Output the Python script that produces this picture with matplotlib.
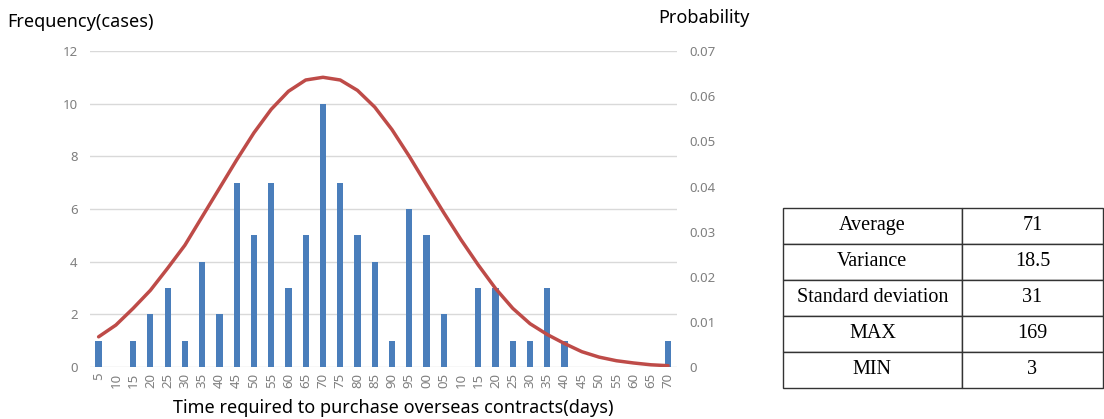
import matplotlib.pyplot as plt
import numpy as np

# dados
dias = list(range(5, 175, 5))
rotulos = ['5', '10', '15', '20', '25', '30', '35', '40', '45', '50', '55', '60',
           '65', '70', '75', '80', '85', '90', '95', '00', '05', '10', '15', '20',
           '25', '30', '35', '40', '45', '50', '55', '60', '65', '70']
frequencia = [1, 0, 1, 2, 3, 1, 4, 2, 7, 5, 7, 3, 5, 10, 7, 5, 4, 1, 6, 5, 2, 0,
              3, 3, 1, 1, 3, 1, 0, 0, 0, 0, 0, 1]
probabilidade = [0.0067, 0.0093, 0.0130, 0.0170, 0.0219, 0.0270, 0.0333, 0.0396,
                 0.0459, 0.0519, 0.0571, 0.0611, 0.0636, 0.0642, 0.0636, 0.0613,
                 0.0576, 0.0526, 0.0467, 0.0404, 0.0342, 0.0282, 0.0226, 0.0174,
                 0.0130, 0.0096, 0.0072, 0.0052, 0.0034, 0.0022, 0.0014, 0.0009,
                 0.0005, 0.0003]
estat_nomes = ['Average', 'Variance', 'Standard deviation', 'MAX', 'MIN']
estat_valores = ['71', '18.5', '31', '169', '3']

plt.rcParams['font.family'] = ['Noto Sans', 'DejaVu Sans']
cinza = '#7f7f7f'

fig = plt.figure(figsize=(11.04, 4.19), dpi=100)
ax = fig.add_axes([0.0815, 0.124, 0.5315, 0.754])
x = np.arange(len(dias))
ax.bar(x, frequencia, width=0.36, color='#4a7ebb', zorder=3)
ax.set_xlim(-0.5, len(dias) - 0.5)
ax.set_ylim(0, 12)
ax.set_yticks(range(0, 13, 2))
ax.set_xticks(x)
ax.set_xticklabels(rotulos, rotation=90)
ax.grid(axis='y', color='#d9d9d9', linewidth=1, zorder=0)
ax.tick_params(axis='both', length=0, colors=cinza, labelsize=9.5)
ax.tick_params(axis='y', pad=9)
ax.tick_params(axis='x', pad=4)
for s in ax.spines.values():
    s.set_visible(False)

ax2 = ax.twinx()
ax2.plot(x, probabilidade, color='#be4b48', linewidth=2.5, zorder=4,
         solid_joinstyle='round', solid_capstyle='round')
ax2.set_ylim(0, 0.07)
ax2.set_yticks([0, 0.01, 0.02, 0.03, 0.04, 0.05, 0.06, 0.07])
ax2.set_yticklabels(['0', '0.01', '0.02', '0.03', '0.04', '0.05', '0.06', '0.07'])
ax2.tick_params(axis='y', length=0, colors=cinza, labelsize=9.5, pad=9)
for s in ax2.spines.values():
    s.set_visible(False)

fig.text(0.007, 0.947, 'Frequency(cases)', fontsize=13, va='center', ha='left')
fig.text(0.596, 0.957, 'Probability', fontsize=13, va='center', ha='left')
fig.text(0.356, 0.026, 'Time required to purchase overseas contracts(days)',
         fontsize=13, va='center', ha='center')

# tabela de estatisticas
axt = fig.add_axes([0.709, 0.074, 0.29, 0.43])
axt.axis('off')
tab = axt.table(cellText=[[n, v] for n, v in zip(estat_nomes, estat_valores)],
                cellLoc='center', bbox=[0, 0, 1, 1], colWidths=[0.56, 0.44])
tab.auto_set_font_size(False)
for (r, c), cel in tab.get_celld().items():
    cel.set_edgecolor('#333333')
    cel.set_linewidth(1)
    cel.get_text().set_fontfamily('Liberation Serif')
    cel.get_text().set_fontsize(14.5)

fig.savefig('out.png', dpi=100)
